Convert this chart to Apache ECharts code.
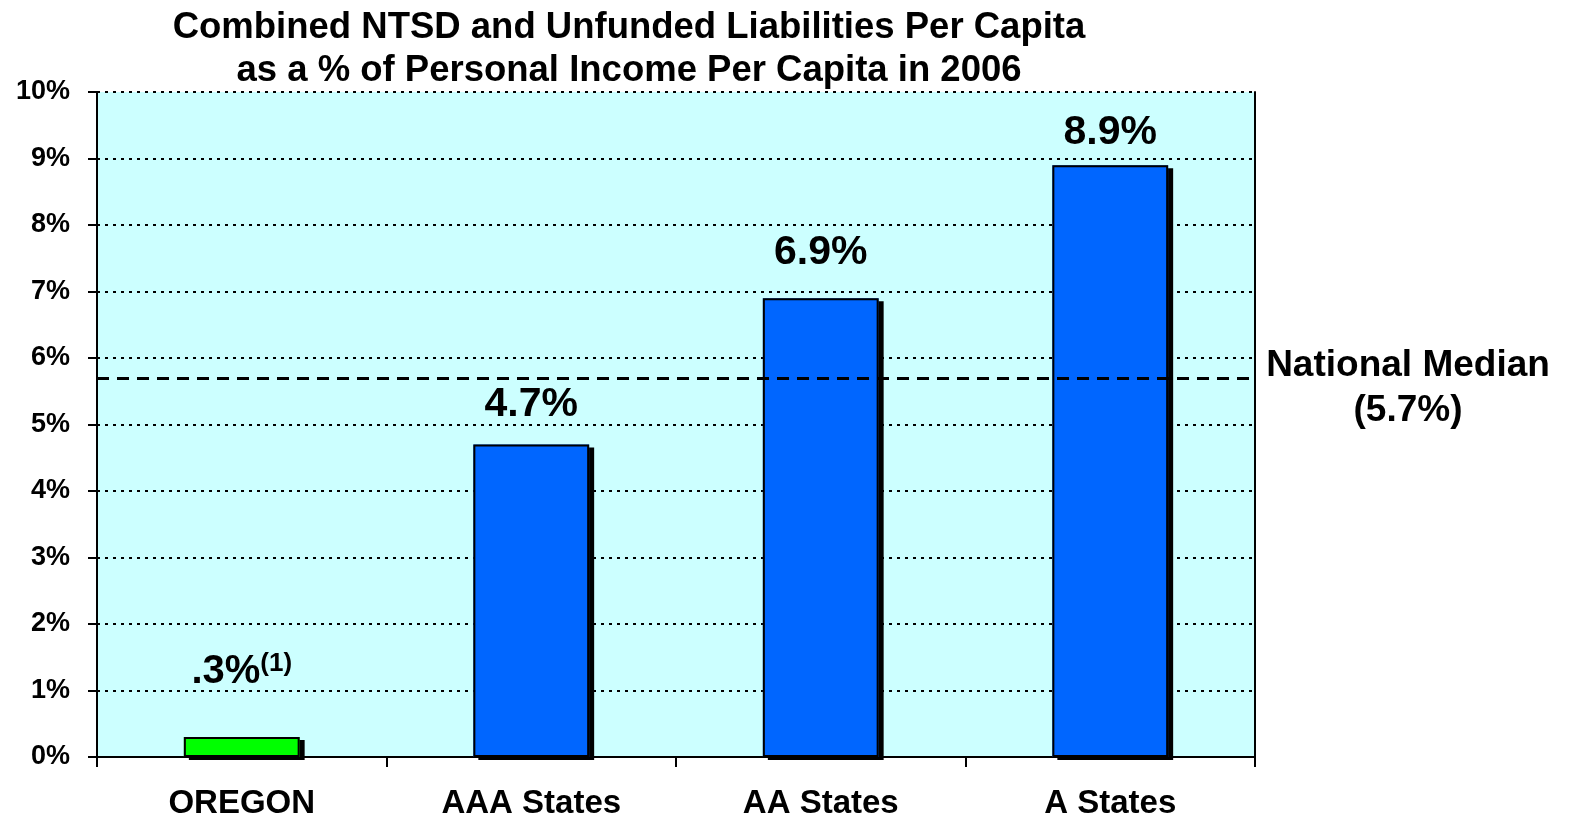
<!DOCTYPE html>
<html>
<head>
<meta charset="utf-8">
<script src="https://cdn.jsdelivr.net/npm/echarts@6/dist/echarts.min.js"></script>
<style>html,body{margin:0;padding:0;background:#fff}#chart{width:1570px;height:821px}</style>
</head>
<body>
<div id="chart"></div>
<script>
const categories = ['OREGON', 'AAA States', 'AA States', 'A States'];
const values = [0.3, 4.7, 6.9, 8.9];
const valueLabels = ['{a|.3%}{b|(1)}', '4.7%', '6.9%', '8.9%'];
const nationalMedian = 5.7;
const medianLabel = 'National Median\n(5.7%)';
const titleText = 'Combined NTSD and Unfunded Liabilities Per Capita\nas a % of Personal Income Per Capita in 2006';

const barColors = ['#00FF00', '#0066FF', '#0066FF', '#0066FF'];
const labelDistances = [44, 19, 25, 12];
const FONT = '"Liberation Sans", Arial, sans-serif';

const chart = echarts.init(document.getElementById('chart'));
chart.setOption({
  animation: false,
  backgroundColor: '#ffffff',
  title: {
    text: titleText,
    left: 624, top: 1, textAlign: 'center',
    textStyle: { fontFamily: FONT, fontWeight: 'bold', fontSize: 36.5, lineHeight: 43, color: '#000' }
  },
  grid: { left: 97, right: 315, top: 92, bottom: 64, show: true, backgroundColor: '#CCFFFF', borderWidth: 0 },
  xAxis: {
    type: 'category', data: categories,
    axisLine: { lineStyle: { color: '#000', width: 2 } },
    axisTick: { show: true, length: 10, lineStyle: { color: '#000', width: 2 } },
    axisLabel: { fontFamily: FONT, fontWeight: 'bold', fontSize: 33, color: '#000', margin: 30 }
  },
  yAxis: [{
    type: 'value', min: 0, max: 10, interval: 1,
    axisLine: { show: true, lineStyle: { color: '#000', width: 2 } },
    axisTick: { show: true, length: 9, lineStyle: { color: '#000', width: 2 } },
    axisLabel: { fontFamily: FONT, fontWeight: 'bold', fontSize: 27, color: '#000', margin: 27, formatter: '{value}%' },
    splitLine: { show: true, lineStyle: { color: '#000', width: 1.8, type: [3, 5] } }
  }, {
    type: 'value', min: 0, max: 10, interval: 1, position: 'right',
    axisLine: { show: true, lineStyle: { color: '#000', width: 2 } },
    axisTick: { show: false }, axisLabel: { show: false }, splitLine: { show: false }
  }],
  series: [{
    type: 'bar',
    barWidth: '40%',
    silent: true,
    data: values.map((v, i) => ({ value: v, itemStyle: { color: barColors[i] } })),
    itemStyle: { shadowColor: '#000', shadowBlur: 0, shadowOffsetX: 5, shadowOffsetY: 3 },
    z: 2
  }, {
    type: 'bar',
    barWidth: '40%',
    barGap: '-100%',
    data: values.map((v, i) => ({
      value: v,
      itemStyle: { color: barColors[i] },
      label: { formatter: valueLabels[i], distance: labelDistances[i] }
    })),
    itemStyle: { borderColor: '#000', borderWidth: 2 },
    z: 3,
    label: {
      show: true, position: 'top',
      fontFamily: FONT, fontWeight: 'bold', fontSize: 41, color: '#000',
      rich: {
        a: { fontFamily: FONT, fontWeight: 'bold', fontSize: 40, color: '#000' },
        b: { fontFamily: FONT, fontWeight: 'bold', fontSize: 26, color: '#000', verticalAlign: 'top', padding: [0, 0, 16, 0] }
      }
    },
    markLine: {
      silent: true, symbol: 'none',
      lineStyle: { color: '#000', width: 3, type: [12, 8] },
      label: {
        show: true, position: 'end', formatter: medianLabel, distance: 153, align: 'center',
        offset: [0, 10],
        fontFamily: FONT, fontWeight: 'bold', fontSize: 37, lineHeight: 45, color: '#000'
      },
      data: [{ yAxis: nationalMedian }]
    }
  }]
});
</script>
</body>
</html>
